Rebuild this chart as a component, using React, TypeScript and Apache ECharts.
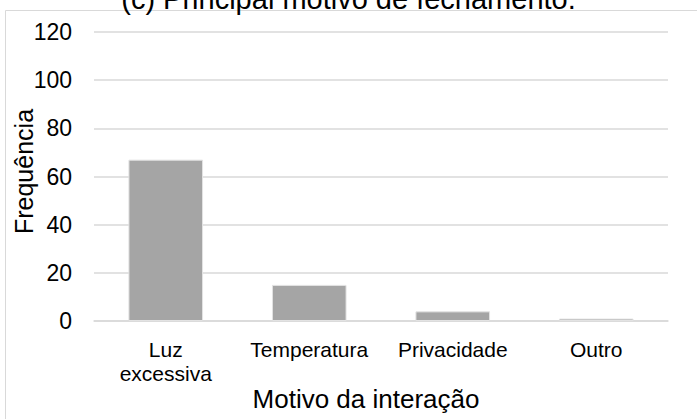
import React, { useEffect, useRef } from "react";
import * as echarts from "echarts";

const categories = ["Luz\nexcessiva", "Temperatura", "Privacidade", "Outro"];
const frequencies = [67, 15, 4, 1];
const yTicks = { min: 0, max: 120, interval: 20 };
const titleText = "(c) Principal motivo de fechamento.";
const xName = "Motivo da interação";
const yName = "Frequência";

const FONT = "'Liberation Sans', Arial, sans-serif";

export default function App() {
  const ref = useRef<HTMLDivElement>(null);
  useEffect(() => {
    document.body.style.margin = "0";
    if (!ref.current) return;
    const chart = echarts.init(ref.current, undefined, { renderer: "svg" });
    chart.setOption({
      animation: false,
      backgroundColor: "#ffffff",
      title: {
        text: titleText,
        left: "center",
        top: -21,
        textStyle: { fontFamily: FONT, fontSize: 29, fontWeight: "normal", color: "#000" },
      },
      graphic: [
        {
          type: "rect",
          shape: { x: 5.5, y: 10.5, width: 760, height: 460 },
          style: { fill: "none", stroke: "#d9d9d9", lineWidth: 1 },
          silent: true,
          z: -1,
        },
      ],
      grid: { left: 94, right: 29, top: 32, bottom: 98, containLabel: false, outerBoundsMode: "none" },
      xAxis: {
        type: "category",
        data: categories,
        name: xName,
        nameLocation: "middle",
        nameGap: 65,
        nameMoveOverlap: false,
        nameTextStyle: { fontFamily: FONT, fontSize: 26, color: "#000", padding: [0, 30, 0, 0] },
        axisLine: { show: true, lineStyle: { color: "#d9d9d9", width: 1.5 } },
        axisTick: { show: false },
        axisLabel: {
          fontFamily: FONT,
          fontSize: 21,
          color: "#000",
          margin: 16,
          lineHeight: 24,
          interval: 0,
        },
      },
      yAxis: {
        type: "value",
        min: yTicks.min,
        max: yTicks.max,
        interval: yTicks.interval,
        name: yName,
        nameLocation: "middle",
        nameRotate: 90,
        nameGap: 58,
        nameMoveOverlap: false,
        nameTextStyle: { fontFamily: FONT, fontSize: 25, color: "#000", padding: [0, 0, 0, 10] },
        axisLine: { show: false },
        axisTick: { show: false },
        axisLabel: { fontFamily: FONT, fontSize: 23, color: "#000", margin: 22 },
        splitLine: { lineStyle: { color: "#d9d9d9", width: 1.5 } },
      },
      series: [
        {
          type: "bar",
          data: frequencies,
          barWidth: "52%",
          itemStyle: { color: "#a5a5a5", borderColor: "#e3e3e3", borderWidth: 1 },
        },
      ],
    });
    return () => chart.dispose();
  }, []);
  return <div ref={ref} style={{ width: 697, height: 419 }} />;
}
